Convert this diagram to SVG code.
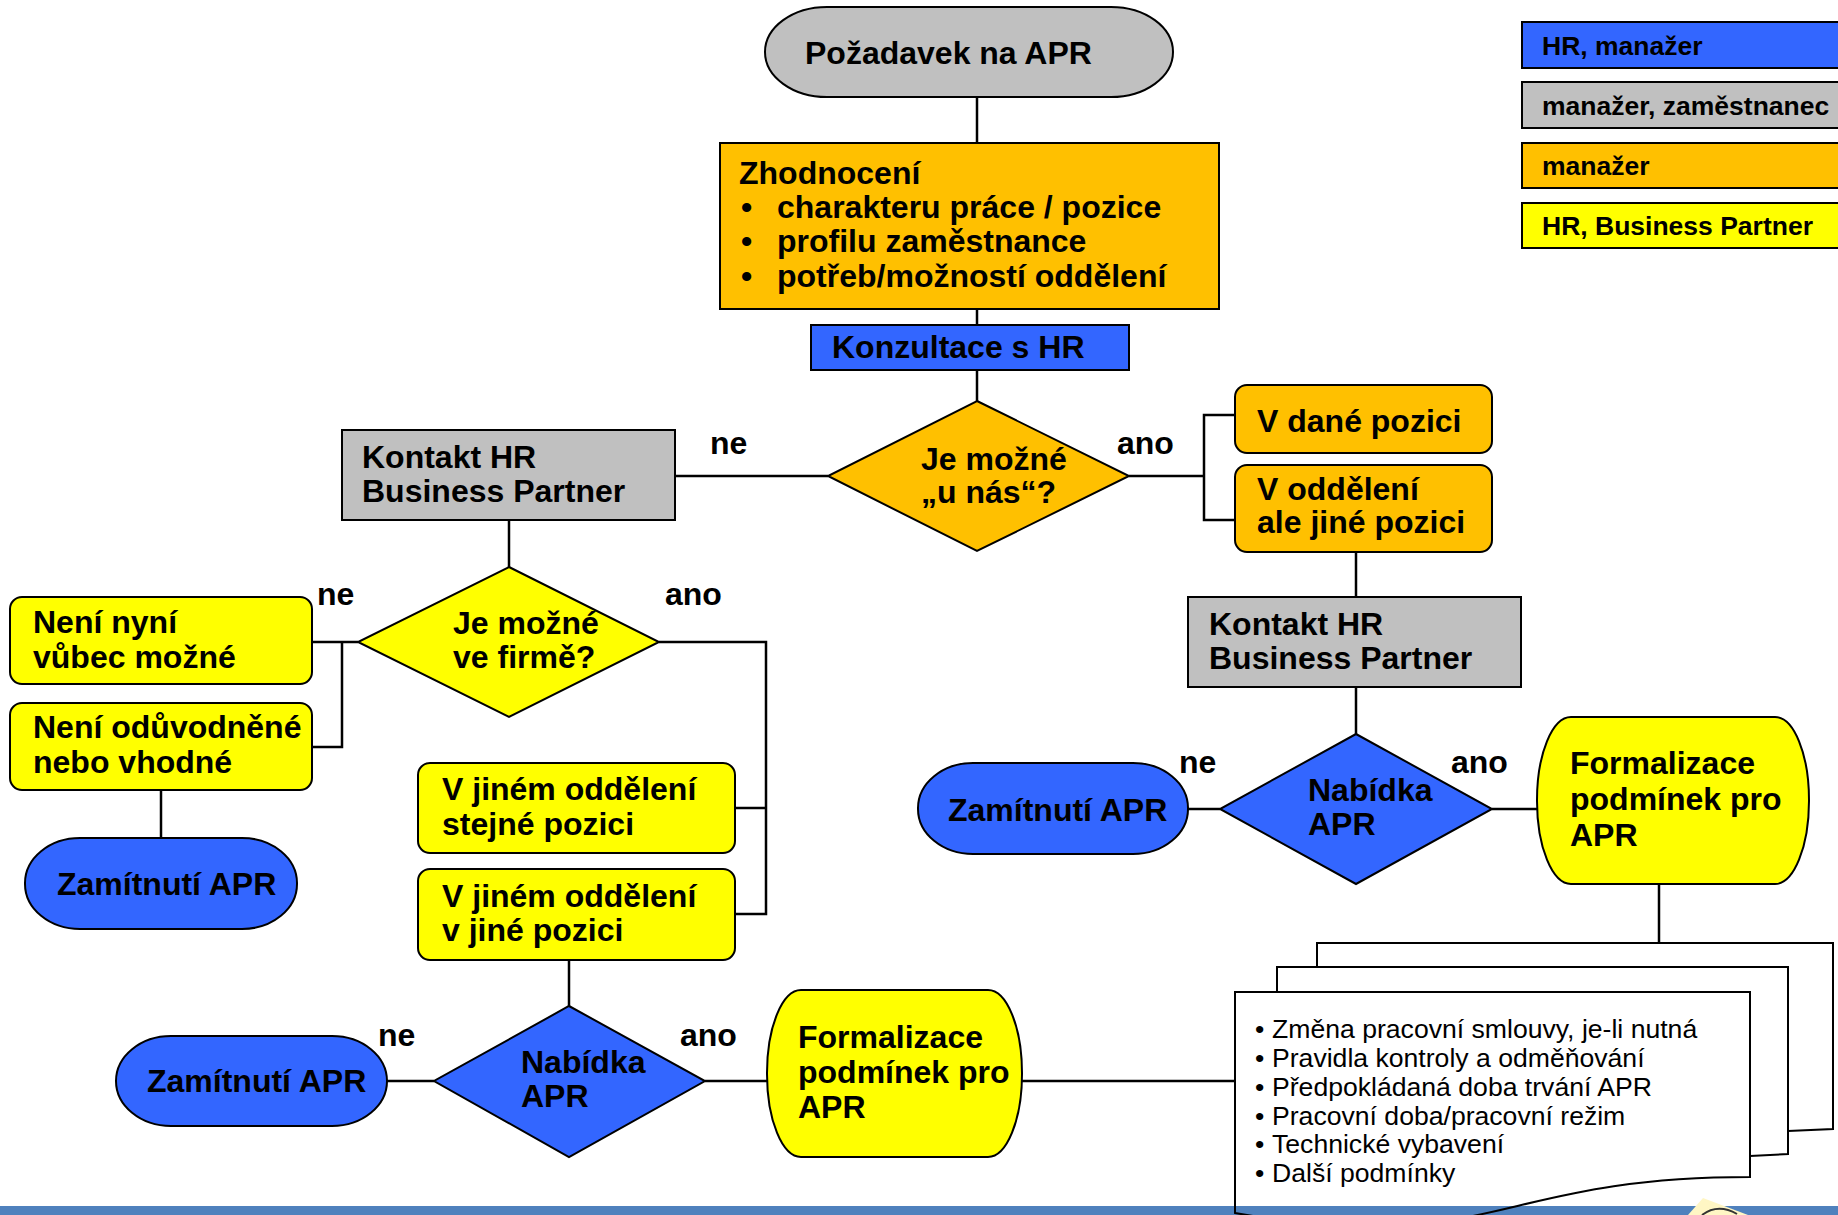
<svg xmlns="http://www.w3.org/2000/svg" width="1838" height="1215" viewBox="0 0 1838 1215">
<style>
  text { font-family: "Liberation Sans", Arial, sans-serif; fill: #000; }
  .b { font-weight: bold; font-size: 32px; }
  .lg { font-weight: bold; font-size: 26.5px; }
  .doc { font-size: 26.6px; }
  .sh { stroke: #000; stroke-width: 2; }
  .blue { fill: #3366FF; }
  .gray { fill: #C0C0C0; }
  .orange { fill: #FFC000; }
  .yellow { fill: #FFFF00; }
  .conn path, .conn line { stroke: #000; stroke-width: 2.5; fill: none; }
</style>
<defs>
  <linearGradient id="pagefill" gradientUnits="userSpaceOnUse" x1="0" y1="1205" x2="0" y2="1206">
    <stop offset="0" stop-color="#fff" stop-opacity="1"/>
    <stop offset="1" stop-color="#fff" stop-opacity="0"/>
  </linearGradient>
</defs>
<rect x="0" y="0" width="1838" height="1215" fill="#fff"/>

<!-- bottom bar -->
<rect id="bottom-bar" x="0" y="1206" width="1838" height="9" fill="#4F81BD"/>
<g id="logo">
  <polygon points="1703,1198 1688,1215 1748,1215" fill="#FFF6C4"/>
  <path d="M1702,1215 Q1718,1203 1737,1214" fill="none" stroke="#333" stroke-width="2"/>
</g>

<!-- connectors -->
<g class="conn" id="connectors">
  <line x1="977" y1="97" x2="977" y2="143"/>
  <line x1="977" y1="309" x2="977" y2="325"/>
  <line x1="977" y1="370" x2="977" y2="401"/>
  <line x1="675" y1="476" x2="828" y2="476"/>
  <path d="M1129,476 H1204 M1235,415 H1204 V520 H1235"/>
  <line x1="1356" y1="552" x2="1356" y2="597"/>
  <line x1="1356" y1="687" x2="1356" y2="734"/>
  <line x1="1188" y1="809" x2="1220" y2="809"/>
  <line x1="1492" y1="809" x2="1537" y2="809"/>
  <line x1="1659" y1="884" x2="1659" y2="943"/>
  <line x1="509" y1="520" x2="509" y2="567"/>
  <path d="M358,642 H312 M342,642 V747 H312"/>
  <line x1="161" y1="790" x2="161" y2="838"/>
  <path d="M659,642 H766 V914 H735 M766,808 H735"/>
  <line x1="569" y1="960" x2="569" y2="1006"/>
  <line x1="387" y1="1081" x2="434" y2="1081"/>
  <line x1="705" y1="1081" x2="767" y2="1081"/>
  <line x1="1022" y1="1081" x2="1235" y2="1081"/>
</g>

<!-- edge labels -->
<g id="edge-labels">
  <text class="b" x="710" y="454">ne</text>
  <text class="b" x="1117" y="454">ano</text>
  <text class="b" x="317" y="605">ne</text>
  <text class="b" x="665" y="605">ano</text>
  <text class="b" x="1179" y="773">ne</text>
  <text class="b" x="1451" y="773">ano</text>
  <text class="b" x="378" y="1046">ne</text>
  <text class="b" x="680" y="1046">ano</text>
</g>

<!-- nodes -->
<g id="start">
  <rect class="sh gray" x="765" y="7" width="408" height="90" rx="62" ry="45"/>
  <text class="b" x="805" y="64">Požadavek na APR</text>
</g>
<g id="zhodnoceni">
  <rect class="sh orange" x="720" y="143" width="499" height="166"/>
  <text class="b" x="739" y="184">Zhodnocení</text>
  <text class="b" x="741" y="218">•</text><text class="b" x="777" y="218">charakteru práce / pozice</text>
  <text class="b" x="741" y="252">•</text><text class="b" x="777" y="252">profilu zaměstnance</text>
  <text class="b" x="741" y="287">•</text><text class="b" x="777" y="287">potřeb/možností oddělení</text>
</g>
<g id="konzultace">
  <rect class="sh blue" x="811" y="325" width="318" height="45"/>
  <text class="b" x="832" y="358">Konzultace s HR</text>
</g>
<g id="dec-u-nas">
  <polygon class="sh orange" points="977,401 1129,476 977,551 828,476"/>
  <text class="b" x="921" y="470">Je možné</text>
  <text class="b" x="921" y="503">„u nás“?</text>
</g>
<g id="v-dane-pozici">
  <rect class="sh orange" x="1235" y="385" width="257" height="68" rx="12"/>
  <text class="b" x="1257" y="432">V dané pozici</text>
</g>
<g id="v-oddeleni">
  <rect class="sh orange" x="1235" y="465" width="257" height="87" rx="12"/>
  <text class="b" x="1257" y="500">V oddělení</text>
  <text class="b" x="1257" y="533">ale jiné pozici</text>
</g>
<g id="kontakt-left">
  <rect class="sh gray" x="342" y="430" width="333" height="90"/>
  <text class="b" x="362" y="468">Kontakt HR</text>
  <text class="b" x="362" y="502">Business Partner</text>
</g>
<g id="kontakt-right">
  <rect class="sh gray" x="1188" y="597" width="333" height="90"/>
  <text class="b" x="1209" y="635">Kontakt HR</text>
  <text class="b" x="1209" y="669">Business Partner</text>
</g>
<g id="dec-firma">
  <polygon class="sh yellow" points="509,567 659,642 509,717 358,642"/>
  <text class="b" x="453" y="634">Je možné</text>
  <text class="b" x="453" y="668">ve firmě?</text>
</g>
<g id="neni-mozne">
  <rect class="sh yellow" x="10" y="597" width="302" height="87" rx="12"/>
  <text class="b" x="33" y="633">Není nyní</text>
  <text class="b" x="33" y="668">vůbec možné</text>
</g>
<g id="neni-oduvodnene">
  <rect class="sh yellow" x="10" y="703" width="302" height="87" rx="12"/>
  <text class="b" x="33" y="738">Není odůvodněné</text>
  <text class="b" x="33" y="773">nebo vhodné</text>
</g>
<g id="zamitnuti-left">
  <rect class="sh blue" x="25" y="838" width="272" height="91" rx="55" ry="45"/>
  <text class="b" x="57" y="895">Zamítnutí APR</text>
</g>
<g id="jine-oddeleni-stejna">
  <rect class="sh yellow" x="418" y="763" width="317" height="90" rx="12"/>
  <text class="b" x="442" y="800">V jiném oddělení</text>
  <text class="b" x="442" y="835">stejné pozici</text>
</g>
<g id="jine-oddeleni-jina">
  <rect class="sh yellow" x="418" y="869" width="317" height="91" rx="12"/>
  <text class="b" x="442" y="907">V jiném oddělení</text>
  <text class="b" x="442" y="941">v jiné pozici</text>
</g>
<g id="nabidka-bottom">
  <polygon class="sh blue" points="569,1006 705,1081 569,1157 434,1081"/>
  <text class="b" x="521" y="1073">Nabídka</text>
  <text class="b" x="521" y="1107">APR</text>
</g>
<g id="zamitnuti-bottom">
  <rect class="sh blue" x="116" y="1036" width="271" height="90" rx="55" ry="45"/>
  <text class="b" x="147" y="1092">Zamítnutí APR</text>
</g>
<g id="formalizace-bottom">
  <rect class="sh yellow" x="767" y="990" width="255" height="167" rx="34" ry="83"/>
  <text class="b" x="798" y="1048">Formalizace</text>
  <text class="b" x="798" y="1083">podmínek pro</text>
  <text class="b" x="798" y="1118">APR</text>
</g>
<g id="nabidka-right">
  <polygon class="sh blue" points="1356,734 1492,809 1356,884 1220,809"/>
  <text class="b" x="1308" y="801">Nabídka</text>
  <text class="b" x="1308" y="835">APR</text>
</g>
<g id="zamitnuti-right">
  <rect class="sh blue" x="918" y="763" width="270" height="91" rx="55" ry="45"/>
  <text class="b" x="948" y="821">Zamítnutí APR</text>
</g>
<g id="formalizace-right">
  <rect class="sh yellow" x="1537" y="717" width="272" height="167" rx="34" ry="83"/>
  <text class="b" x="1570" y="774">Formalizace</text>
  <text class="b" x="1570" y="810">podmínek pro</text>
  <text class="b" x="1570" y="846">APR</text>
</g>
<g id="podminky-doc">
  <path class="sh" fill="#fff" d="M1317,943 H1833 V1129 L1788,1131 L1317,1140 Z"/>
  <path class="sh" fill="#fff" d="M1277,967 H1788 V1154 L1750,1156 L1277,1165 Z"/>
  <path class="sh" fill="url(#pagefill)" d="M1235,992 H1750 V1177 C1492,1177 1492,1258 1235,1213 Z"/>
  <text class="doc" x="1255" y="1038">•</text><text class="doc" x="1272" y="1038">Změna pracovní smlouvy, je-li nutná</text>
  <text class="doc" x="1255" y="1067">•</text><text class="doc" x="1272" y="1067">Pravidla kontroly a odměňování</text>
  <text class="doc" x="1255" y="1096">•</text><text class="doc" x="1272" y="1096">Předpokládaná doba trvání APR</text>
  <text class="doc" x="1255" y="1125">•</text><text class="doc" x="1272" y="1125">Pracovní doba/pracovní režim</text>
  <text class="doc" x="1255" y="1153">•</text><text class="doc" x="1272" y="1153">Technické vybavení</text>
  <text class="doc" x="1255" y="1182">•</text><text class="doc" x="1272" y="1182">Další podmínky</text>
</g>

<!-- legend -->
<g id="legend">
  <g id="legend-hr-manazer">
    <rect class="sh blue" x="1522" y="22" width="330" height="46"/>
    <text class="lg" x="1542" y="55">HR, manažer</text>
  </g>
  <g id="legend-manazer-zamestnanec">
    <rect class="sh gray" x="1522" y="82" width="330" height="46"/>
    <text class="lg" x="1542" y="115">manažer, zaměstnanec</text>
  </g>
  <g id="legend-manazer">
    <rect class="sh orange" x="1522" y="143" width="330" height="45"/>
    <text class="lg" x="1542" y="175">manažer</text>
  </g>
  <g id="legend-hr-bp">
    <rect class="sh yellow" x="1522" y="203" width="330" height="45"/>
    <text class="lg" x="1542" y="235">HR, Business Partner</text>
  </g>
</g>
</svg>
